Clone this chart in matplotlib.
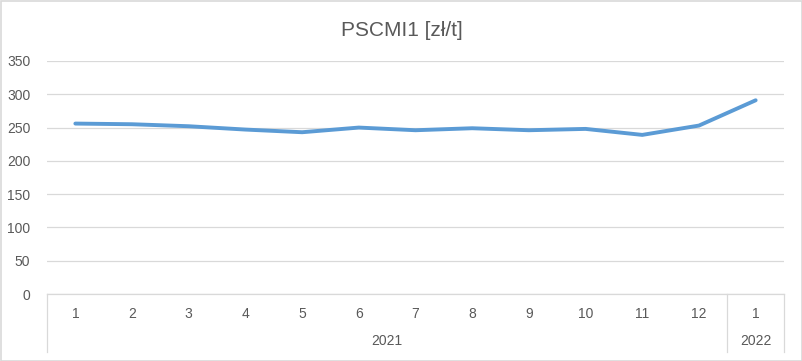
import numpy as np
import matplotlib
matplotlib.use("Agg")
import matplotlib.pyplot as plt
import matplotlib.transforms as mtransforms

# data
months = ["1", "2", "3", "4", "5", "6", "7", "8", "9", "10", "11", "12", "1"]
years = ["2021", "2022"]
year_counts = [12, 1]
pscmi1 = [256, 255, 252, 247, 243, 250, 246, 249, 246, 248, 239, 253, 291]

plt.rcParams['font.family'] = ['Liberation Sans', 'DejaVu Sans']

W, H = 803, 361
fig = plt.figure(figsize=(W / 100, H / 100), dpi=100)
ax = fig.add_axes([47 / W, 1 - 294 / H, (784 - 47) / W, (294 - 61) / H])

txt = '#595959'
grid = '#d9d9d9'

x = np.arange(len(months))
ax.plot(x, pscmi1, color='#5b9bd5', lw=2.8, solid_capstyle='round', solid_joinstyle='round', zorder=3)

ax.set_xlim(-0.5, len(months) - 0.5)
ax.set_ylim(0, 350)
ax.set_yticks(np.arange(0, 351, 50))
ax.yaxis.grid(True, color=grid, lw=0.9)
ax.set_axisbelow(True)
ax.tick_params(axis='y', length=0, pad=12, labelsize=10, labelcolor=txt)
ax.set_xticks(x)
ax.set_xticklabels(months)
ax.tick_params(axis='x', length=0, pad=9, labelsize=10, labelcolor=txt)
for s in ['top', 'right', 'left']:
    ax.spines[s].set_visible(False)
ax.spines['bottom'].set_color(grid)
ax.spines['bottom'].set_linewidth(0.9)

# second category level (years) and separators
trans = mtransforms.blended_transform_factory(ax.transData, ax.transAxes)
ybot = -(352 - 294) / (294 - 61)
yyear = -(341 - 294) / (294 - 61)
start = 0
bounds = [-0.5]
for yr, n in zip(years, year_counts):
    mid = start + (n - 1) / 2
    ax.text(mid, yyear, yr, transform=trans, ha='center', va='center', fontsize=10, color=txt)
    start += n
    bounds.append(start - 0.5)
for b in bounds:
    ax.plot([b, b], [0, ybot], transform=trans, color=grid, lw=0.9, clip_on=False)

fig.text(0.5, 1 - 30 / H, 'PSCMI1 [zł/t]', ha='center', va='center', fontsize=15, color=txt)

# outer chart border
fig.patches.append(plt.Rectangle((0.5 / W, 0.5 / H), 1 - 1.5 / W, 1 - 1.5 / H, transform=fig.transFigure,
                                 fill=False, edgecolor=grid, lw=1.2))

fig.savefig('out.png', dpi=100)
